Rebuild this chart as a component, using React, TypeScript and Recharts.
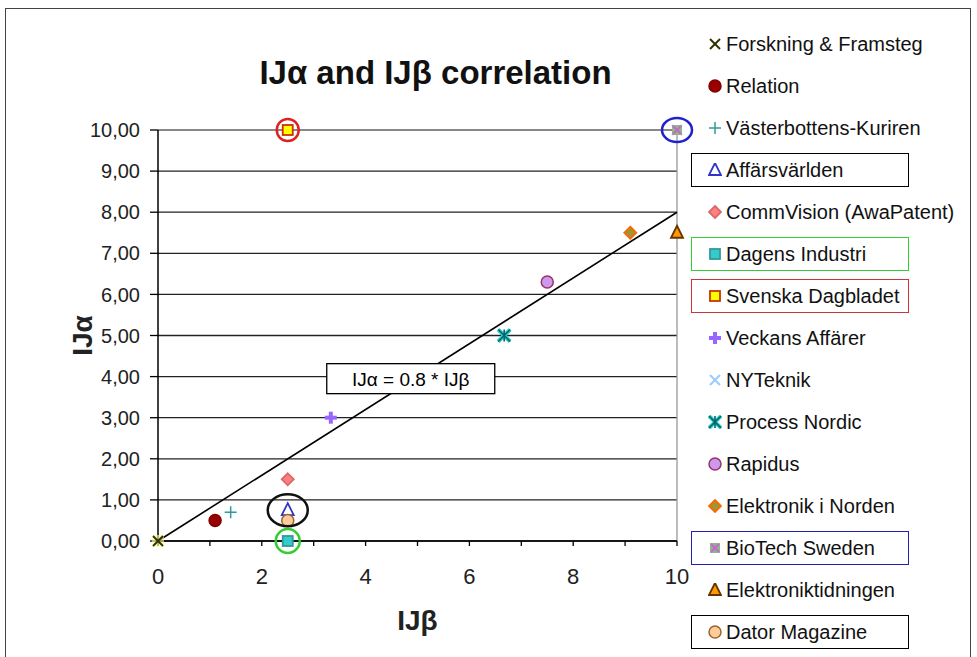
import {
  ScatterChart,
  Scatter,
  XAxis,
  YAxis,
  CartesianGrid,
  ReferenceLine,
  ReferenceDot,
  Label,
} from "recharts";

const FONT = '"Liberation Sans", Arial, sans-serif';

const papers = [
  "Forskning & Framsteg",
  "Relation",
  "Västerbottens-Kuriren",
  "Affärsvärlden",
  "CommVision (AwaPatent)",
  "Dagens Industri",
  "Svenska Dagbladet",
  "Veckans Affärer",
  "NYTeknik",
  "Process Nordic",
  "Rapidus",
  "Elektronik i Norden",
  "BioTech Sweden",
  "Elektroniktidningen",
  "Dator Magazine",
];
const ijBeta = [0, 1.1, 1.4, 2.5, 2.5, 2.5, 2.5, 3.33, 10, 6.67, 7.5, 9.1, 10, 10, 2.5];
const ijAlpha = [0, 0.5, 0.7, 0.75, 1.5, 0, 10, 3, 10, 5, 6.3, 7.5, 10, 7.5, 0.5];
const xTicks = [0, 1, 2, 3, 4, 5, 6, 7, 8, 9, 10];
const yTicks = [0, 1, 2, 3, 4, 5, 6, 7, 8, 9, 10];
const trendSlope = 0.8;

// marker look per paper, same order as papers
const looks = [
  { kind: "x", fill: "#ffff99", stroke: "#333300" },
  { kind: "circle", fill: "#990000", stroke: "#800000" },
  { kind: "plus", fill: "none", stroke: "#339999" },
  { kind: "triangle", fill: "#ffffff", stroke: "#3333cc" },
  { kind: "diamond", fill: "#ff8080", stroke: "#dd6666" },
  { kind: "square", fill: "#33cccc", stroke: "#339999" },
  { kind: "square", fill: "#ffff00", stroke: "#cc3300" },
  { kind: "thickplus", fill: "none", stroke: "#9966ff" },
  { kind: "x", fill: "none", stroke: "#99ccff" },
  { kind: "asterisk", fill: "#33cccc", stroke: "#006666" },
  { kind: "circle", fill: "#cc99ee", stroke: "#993366" },
  { kind: "diamond", fill: "#999933", stroke: "#ff6600" },
  { kind: "squarex", fill: "#88bb88", stroke: "#cc66cc" },
  { kind: "triangle", fill: "#ff9900", stroke: "#663300" },
  { kind: "circle", fill: "#ffcc99", stroke: "#996633" },
];

const legendBoxes: Record<string, string> = {
  "Affärsvärlden": "#000000",
  "Dagens Industri": "#33cc33",
  "Svenska Dagbladet": "#cc3333",
  "BioTech Sweden": "#2222aa",
  "Dator Magazine": "#000000",
};

const Marker = ({ kind, fill, stroke, cx, cy, plain }: any) => {
  const s = 6;
  switch (kind) {
    case "x":
      return (
        <g>
          {fill !== "none" && !plain && (
            <rect x={cx - s} y={cy - s} width={2 * s} height={2 * s} fill={fill} opacity={0.6} />
          )}
          <g stroke={stroke} strokeWidth={2}>
            <line x1={cx - s + 1} y1={cy - s + 1} x2={cx + s - 1} y2={cy + s - 1} />
            <line x1={cx - s + 1} y1={cy + s - 1} x2={cx + s - 1} y2={cy - s + 1} />
          </g>
        </g>
      );
    case "circle":
      return <circle cx={cx} cy={cy} r={s} fill={fill} stroke={stroke} strokeWidth={1.5} />;
    case "plus":
      return (
        <g stroke={stroke} strokeWidth={1.5}>
          <line x1={cx - s} y1={cy} x2={cx + s} y2={cy} />
          <line x1={cx} y1={cy - s} x2={cx} y2={cy + s} />
        </g>
      );
    case "thickplus":
      return (
        <g stroke={stroke} strokeWidth={4}>
          <line x1={cx - s} y1={cy} x2={cx + s} y2={cy} />
          <line x1={cx} y1={cy - s} x2={cx} y2={cy + s} />
        </g>
      );
    case "triangle":
      return (
        <polygon
          points={`${cx},${cy - s - 1} ${cx + s},${cy + s - 1} ${cx - s},${cy + s - 1}`}
          fill={fill}
          stroke={stroke}
          strokeWidth={1.8}
        />
      );
    case "diamond":
      return (
        <polygon
          points={`${cx},${cy - s} ${cx + s},${cy} ${cx},${cy + s} ${cx - s},${cy}`}
          fill={fill}
          stroke={stroke}
          strokeWidth={1.8}
        />
      );
    case "square":
      return <rect x={cx - s + 1} y={cy - s + 1} width={2 * s - 2} height={2 * s - 2} fill={fill} stroke={stroke} strokeWidth={1.8} />;
    case "squarex":
      return (
        <g>
          <rect x={cx - s + 1} y={cy - s + 1} width={2 * s - 2} height={2 * s - 2} fill={fill} />
          <g stroke={stroke} strokeWidth={2}>
            <line x1={cx - s + 2} y1={cy - s + 2} x2={cx + s - 2} y2={cy + s - 2} />
            <line x1={cx - s + 2} y1={cy + s - 2} x2={cx + s - 2} y2={cy - s + 2} />
          </g>
        </g>
      );
    case "asterisk":
      return (
        <g>
          <g stroke={fill} strokeWidth={4}>
            <line x1={cx - s} y1={cy - s} x2={cx + s} y2={cy + s} />
            <line x1={cx - s} y1={cy + s} x2={cx + s} y2={cy - s} />
          </g>
          <g stroke={stroke} strokeWidth={1.6}>
            <line x1={cx - s} y1={cy - s} x2={cx + s} y2={cy + s} />
            <line x1={cx - s} y1={cy + s} x2={cx + s} y2={cy - s} />
            <line x1={cx} y1={cy - s} x2={cx} y2={cy + s} />
          </g>
        </g>
      );
    default:
      return null;
  }
};

const XTick = ({ x, y, payload }: any) =>
  payload.value % 2 === 0 ? (
    <text x={x} y={y + 36} textAnchor="middle" fontSize={22} fontFamily={FONT} fill="#222">
      {payload.value}
    </text>
  ) : null;

const Ring = ({ rx, ry, color }: any) => (props: any) =>
  <ellipse cx={props.cx} cy={props.cy} rx={rx} ry={ry} fill="none" stroke={color} strokeWidth={2.5} />;

const EquationBox = (props: any) => (
  <g>
    <rect x={props.cx - 84} y={props.cy - 15} width={168} height={30} fill="#fff" stroke="#000" strokeWidth={1.3} />
    <text x={props.cx} y={props.cy + 7} textAnchor="middle" fontSize={19} fontFamily={FONT} fill="#000">
      IJα = {trendSlope} * IJβ
    </text>
  </g>
);

const LegendList = () => (
  <div style={{ position: "absolute", left: 691, top: 27, width: 218, fontFamily: FONT, fontSize: 20 }}>
    {papers.map((name, i) => (
      <div
        key={name}
        style={{
          position: "relative",
          height: 34,
          marginBottom: 8,
          boxSizing: "border-box",
          border: legendBoxes[name] ? `1.5px solid ${legendBoxes[name]}` : "1.5px solid transparent",
          display: "flex",
          alignItems: "center",
          color: "#111",
          whiteSpace: "nowrap",
          overflow: "visible",
        }}
      >
        <svg width={14} height={14} style={{ marginLeft: 16, marginRight: 4, flexShrink: 0 }}>
          <Marker {...looks[i]} cx={7} cy={7} plain />
        </svg>
        {name}
      </div>
    ))}
  </div>
);

export default function App() {
  return (
    <div style={{ position: "absolute", left: 0, top: 0, width: 977, height: 657, background: "#fff", overflow: "hidden" }}>
      <div
        style={{
          position: "absolute",
          left: 5,
          top: 8,
          width: 964,
          height: 700,
          border: "1.5px solid #444",
        }}
      />
      <div
        style={{
          position: "absolute",
          left: 0,
          width: 871,
          top: 54,
          textAlign: "center",
          fontFamily: FONT,
          fontWeight: "bold",
          fontSize: 33,
          color: "#111",
        }}
      >
        IJα and IJβ correlation
      </div>
      <div style={{ position: "absolute", left: 0, top: 0 }}>
        <ScatterChart width={977} height={657} margin={{ top: 130, right: 300, bottom: 26, left: 78 }}>
          <CartesianGrid vertical={false} stroke="#222" strokeWidth={1.3} />
          <ReferenceLine y={10} stroke="#999" strokeWidth={1.3} />
          <ReferenceLine x={10} stroke="#999" strokeWidth={1.3} />
          <XAxis
            type="number"
            dataKey="x"
            domain={[0, 10]}
            ticks={xTicks}
            interval={0}
            tick={<XTick />}
            tickSize={5}
            tickMargin={2}
            height={90}
            axisLine={{ stroke: "#000", strokeWidth: 1.5 }}
            tickLine={{ stroke: "#000", strokeWidth: 1.3 }}
          >
            <Label
              content={({ viewBox }: any) => (
                <text
                  x={viewBox.x + viewBox.width / 2}
                  y={viewBox.y + 89}
                  textAnchor="middle"
                  fontSize={28}
                  fontWeight="bold"
                  fontFamily={FONT}
                  fill="#222"
                >
                  IJβ
                </text>
              )}
            />
          </XAxis>
          <YAxis
            type="number"
            dataKey="y"
            domain={[0, 10]}
            ticks={yTicks}
            interval={0}
            width={80}
            tickSize={8}
            tickMargin={10}
            tickFormatter={(v: number) => v.toFixed(2).replace(".", ",")}
            tick={{ fontSize: 20, fill: "#222", fontFamily: FONT }}
            axisLine={{ stroke: "#000", strokeWidth: 1.5 }}
            tickLine={{ stroke: "#000", strokeWidth: 1.3 }}
          >
            <Label
              content={({ viewBox }: any) => {
                const cx = 92;
                const cy = viewBox.y + viewBox.height / 2;
                return (
                  <text
                    x={cx}
                    y={cy}
                    transform={`rotate(-90 ${cx} ${cy})`}
                    textAnchor="middle"
                    fontSize={28}
                    fontWeight="bold"
                    fontFamily={FONT}
                    fill="#222"
                  >
                    IJα
                  </text>
                );
              }}
            />
          </YAxis>
          <ReferenceLine
            segment={[
              { x: 0, y: 0 },
              { x: 10, y: 10 * trendSlope },
            ]}
            stroke="#000"
            strokeWidth={1.6}
          />
          <ReferenceDot x={4.87} y={3.95} shape={EquationBox} />
          {papers.map((name, i) => (
            <Scatter
              key={name}
              name={name}
              data={[{ x: ijBeta[i], y: ijAlpha[i] }]}
              isAnimationActive={false}
              shape={(p: any) => <Marker {...looks[i]} cx={p.cx} cy={p.cy} />}
            />
          ))}
          <ReferenceDot x={2.5} y={10} shape={Ring({ rx: 11, ry: 11, color: "#dd2222" })} />
          <ReferenceDot x={10} y={10} shape={Ring({ rx: 15, ry: 12, color: "#2222cc" })} />
          <ReferenceDot x={2.5} y={0.75} shape={Ring({ rx: 20, ry: 16, color: "#111" })} />
          <ReferenceDot x={2.5} y={0} shape={Ring({ rx: 12, ry: 12, color: "#33cc33" })} />
        </ScatterChart>
      </div>
      <LegendList />
    </div>
  );
}
